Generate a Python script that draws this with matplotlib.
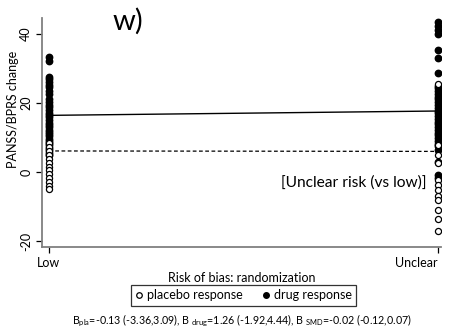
import matplotlib.pyplot as plt
from matplotlib.lines import Line2D
from matplotlib.transforms import ScaledTranslation

plt.rcParams['font.family'] = ['Lato', 'DejaVu Sans']

categories = ['Low', 'Unclear']

# drug response (filled) per study
drug_low = [33.2, 32.0, 27.5, 26.8, 26.0, 25.2, 24.5, 23.5, 22.6, 21.0, 20.2,
            19.5, 18.8, 18.0, 17.2, 16.5, 15.8, 15.0, 14.2, 13.6, 13.0, 12.3,
            11.6, 11.0, 10.3, 9.7, 9.0, 8.4, 7.8, 7.0, 6.3, 5.5, 4.8]
drug_unclear = [43.4, 42.3, 41.2, 40.0, 35.4, 33.0, 28.6, 25.0, 24.2, 23.4,
                22.6, 21.8, 21.0, 20.2, 19.4, 18.6, 17.8, 17.0, 16.2, 15.4,
                14.6, 13.8, 13.0, 12.2, 11.4, 10.6, 9.8, 9.0, 8.2, 7.4, 6.5,
                3.0, -0.8, -1.7]

# placebo response (open) per study
pla_low = [8.5, 7.2, 6.0, 4.9, 3.8, 2.7, 1.6, 0.5, -0.6, -1.7, -2.8, -3.9, -5.0]
pla_unclear = [25.5, 7.9, 5.0, 2.6, -2.3, -3.8, -5.3, -6.8, -8.2, -11.0,
               -13.7, -17.0]

# meta-regression fitted lines (Low -> Unclear)
fit_drug = [16.4, 17.66]
fit_pla = [6.1, 5.97]

fig = plt.figure(figsize=(4.54, 3.32), dpi=100)
ax = fig.add_axes([0.0925, 0.256, 0.879, 0.69])

ax.plot([0] * len(drug_low), drug_low, 'o', ms=4.6, color='black', zorder=3)
ax.plot([1] * len(drug_unclear), drug_unclear, 'o', ms=4.6, color='black', zorder=3)
ax.plot([0] * len(pla_low), pla_low, 'o', ms=4.4, mfc='white', mec='black',
        mew=0.9, zorder=4)
ax.plot([1] * len(pla_unclear), pla_unclear, 'o', ms=4.4, mfc='white',
        mec='black', mew=0.9, zorder=4)

ax.plot([0, 1], fit_drug, '-', color='black', lw=1.0, zorder=2)
ax.plot([0, 1], fit_pla, '--', color='black', lw=0.9, dashes=(3, 2), zorder=2)

ax.set_xlim(-0.018, 1.008)
ax.set_ylim(-21.7, 44.6)
ax.set_xticks([0, 1])
ax.set_xticklabels(categories, fontsize=9)
# keep the right-hand label inside the figure
last = ax.get_xticklabels()[1]
last.set_ha('right')
last.set_transform(last.get_transform() + ScaledTranslation(0.13, 0, fig.dpi_scale_trans))
ax.set_yticks([-20, 0, 20, 40])
ax.set_yticklabels(['-20', '0', '20', '40'], rotation=90, va='center', fontsize=9)
ax.tick_params(length=4, width=0.9, color='black', pad=3)

for side in ['top', 'right']:
    ax.spines[side].set_visible(False)
for side in ['left', 'bottom']:
    ax.spines[side].set_color('#808080')
    ax.spines[side].set_linewidth(1.3)

ax.set_ylabel('PANSS/BPRS change', fontsize=9)
ax.yaxis.set_label_coords(-0.058, 0.6)
ax.set_xlabel('Risk of bias: randomization', fontsize=9, labelpad=2)

ax.text(0.6, 0.28, '[Unclear risk (vs low)]', transform=ax.transAxes,
        fontsize=11.2, ha='left', va='center')
fig.text(0.248, 0.935, 'w)', fontsize=21, ha='left', va='center')

handles = [
    Line2D([], [], ls='none', marker='o', ms=4, mfc='white', mec='black', mew=0.9),
    Line2D([], [], ls='none', marker='o', ms=4, color='black'),
]
leg = fig.legend(handles, ['placebo response', 'drug response'],
                 loc='center', bbox_to_anchor=(0.537, 0.11), ncol=2,
                 fontsize=9, frameon=True, fancybox=False, handlelength=0.6,
                 handletextpad=0.3, columnspacing=1.6, borderpad=0.35,
                 borderaxespad=0)
leg.get_frame().set_edgecolor('black')
leg.get_frame().set_linewidth(0.9)

fig.text(0.532, 0.035,
         r'B$_{\mathregular{pla}}$=-0.13 (-3.36,3.09), B $_{\mathregular{drug}}$=1.26 (-1.92,4.44), '
         r'B $_{\mathregular{SMD}}$=-0.02 (-0.12,0.07)',
         fontsize=7.7, ha='center', va='center')

fig.savefig('out.png', dpi=100)
